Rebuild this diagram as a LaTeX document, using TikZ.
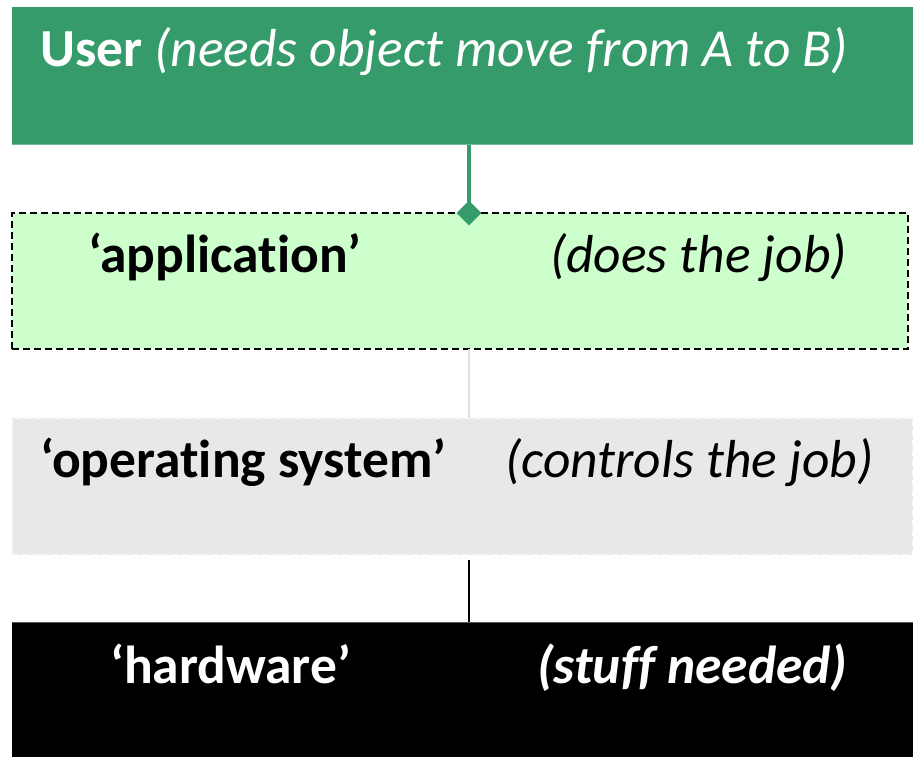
\documentclass[tikz,border=0pt]{standalone}
\usepackage{fontspec}
\setmainfont[Ligatures={NoCommon}]{Carlito}
\usetikzlibrary{shapes.geometric}
\definecolor{usergreen}{RGB}{53,155,106}
\definecolor{appgreen}{RGB}{204,255,204}
\definecolor{osgray}{RGB}{232,232,232}
\tikzset{
  layer/.style={rectangle, anchor=north west, inner sep=0pt, outer sep=0pt},
  label/.style={anchor=base west, inner sep=0pt, font=\fontsize{53.5}{60}\selectfont},
}
\begin{document}
\begin{tikzpicture}[x=1pt, y=-1pt]
\useasboundingbox (0,0) rectangle (913,757);
% layer boxes
\node[layer, fill=usergreen, minimum width=901pt, minimum height=138pt] (user) at (12,7) {};
\node[layer, fill=appgreen, draw=black, line width=1.4pt, dash pattern=on 7pt off 4pt,
      minimum width=896pt, minimum height=136pt] (app) at (12,213) {};
\node[layer, fill=osgray, draw=white!80!osgray, line width=1.2pt, dash pattern=on 6pt off 4pt,
      minimum width=901pt, minimum height=137pt] (os) at (12,418) {};
\node[layer, fill=black, minimum width=901pt, minimum height=135pt] (hw) at (12,622) {};
\draw[black!65, line width=1pt] (hw.north west) -- (hw.north east);
\draw[usergreen!70!white, line width=1pt] (user.south west) -- (user.south east);
% vertical axis of the connectors
\coordinate (axis) at (469,0);
\draw[usergreen, line width=4pt] (user.south -| axis) -- (app.north -| axis);
\node[diamond, fill=usergreen, inner sep=0pt, minimum width=25pt, minimum height=25pt]
  (knob) at (app.north -| axis) {};
\draw[osgray!97!black, line width=1.5pt] (app.south -| axis) -- (os.north -| axis);
\draw[black, line width=2pt, shorten <=5pt] (os.south -| axis) -- (hw.north -| axis);
% labels
\node[label, text=white] (usertxt) at (40,67) {\textbf{User} \textit{(needs object move from A to B)}};
\node[label] (apptxt) at (88,272) {\textbf{‘application’}};
\node[label] (appnote) at (550,272) {\textit{(does the job)}};
\node[label] (ostxt) at (40,477) {\textbf{‘operating system’}};
\node[label] (osnote) at (505,477) {\textit{(controls the job)}};
\node[label, text=white] (hwtxt) at (110,683) {\textbf{‘hardware’}};
\node[label, text=white] (hwnote) at (537,683) {\textbf{\textit{(stuff needed)}}};
\end{tikzpicture}
\end{document}
